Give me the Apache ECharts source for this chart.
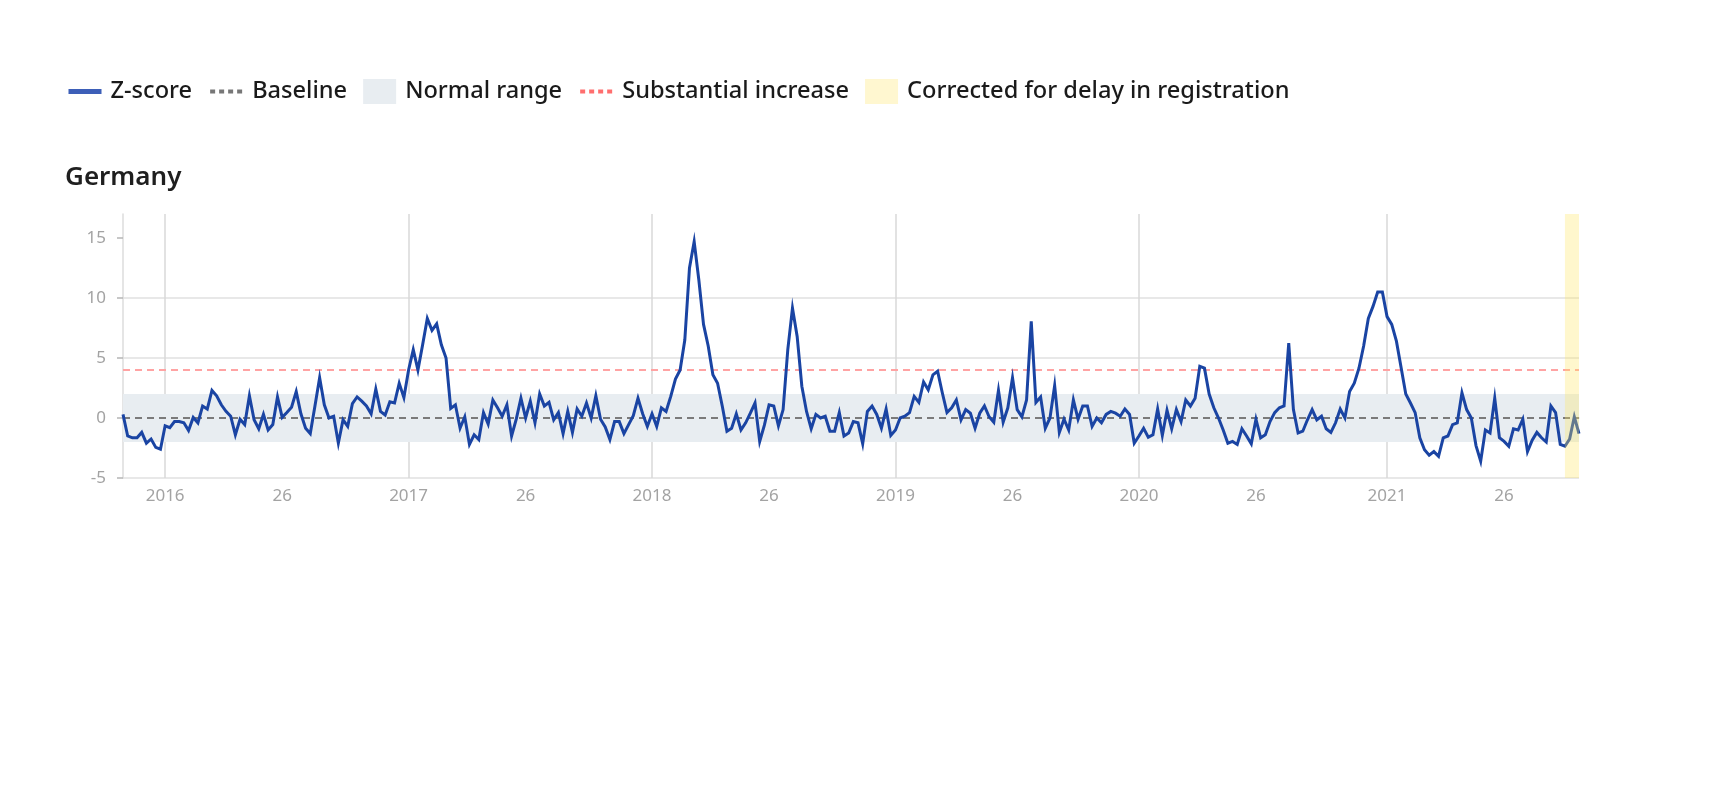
<!DOCTYPE html>
<html>
<head>
<meta charset="utf-8">
<script src="https://cdn.jsdelivr.net/npm/echarts@6/dist/echarts.min.js"></script>
<style>
html,body{margin:0;padding:0;background:#fff;}
#chart{width:1732px;height:785px;}
</style>
</head>
<body>
<div id="chart"></div>
<script>
// ISO weeks covered: 2015-W45 .. 2021-W42
const yearWeeks = [[2015, 45, 53], [2016, 1, 52], [2017, 1, 52], [2018, 1, 52], [2019, 1, 52], [2020, 1, 53], [2021, 1, 42]];
const categories = [];
yearWeeks.forEach(([y, from, to]) => { for (let w = from; w <= to; w++) categories.push(y + '-W' + w); });

const zScore = [
  0.3, -1.5, -1.65, -1.65, -1.2, -2.1, -1.75, -2.45, -2.6, -0.65,
  -0.8, -0.3, -0.3, -0.4, -1.05, 0.05, -0.4, 1.0, 0.75, 2.3,
  1.85, 1.1, 0.55, 0.15, -1.4, -0.1, -0.55, 1.85, -0.15, -0.9,
  0.3, -1.0, -0.55, 1.75, 0.05, 0.45, 0.9, 2.2, 0.35, -0.85,
  -1.3, 1.0, 3.35, 1.1, 0.0, 0.15, -2.1, -0.15, -0.7, 1.2,
  1.75, 1.4, 1.0, 0.35, 2.4, 0.55, 0.25, 1.35, 1.25, 2.9,
  1.7, 4.0, 5.7, 4.0, 6.1, 8.3, 7.3, 7.85, 6.1, 5.0,
  0.8, 1.1, -0.85, 0.1, -2.2, -1.4, -1.8, 0.45, -0.5, 1.5,
  0.85, 0.15, 1.1, -1.5, -0.1, 1.65, 0.0, 1.4, -0.4, 2.0,
  1.0, 1.3, -0.15, 0.45, -1.3, 0.55, -1.2, 0.75, 0.15, 1.25,
  0.0, 1.85, -0.1, -0.75, -1.8, -0.3, -0.3, -1.3, -0.55, 0.2,
  1.65, 0.35, -0.7, 0.35, -0.7, 0.85, 0.55, 1.8, 3.25, 4.0,
  6.5, 12.5, 14.7, 11.5, 7.8, 6.0, 3.6, 2.9, 1.0, -1.1,
  -0.85, 0.35, -1.0, -0.4, 0.4, 1.25, -1.95, -0.6, 1.1, 1.0,
  -0.65, 0.7, 5.7, 9.15, 6.8, 2.65, 0.55, -0.9, 0.3, 0.0,
  0.15, -1.1, -1.1, 0.45, -1.5, -1.25, -0.3, -0.4, -2.15, 0.55,
  1.0, 0.3, -0.85, 0.75, -1.45, -1.0, 0.0, 0.15, 0.45, 1.8,
  1.3, 3.0, 2.35, 3.6, 3.9, 2.1, 0.45, 0.85, 1.5, -0.15,
  0.7, 0.4, -0.85, 0.4, 1.0, 0.1, -0.35, 2.3, -0.35, 0.85,
  3.35, 0.7, 0.1, 1.5, 8.05, 1.3, 1.75, -0.85, 0.0, 2.7,
  -1.2, -0.1, -1.0, 1.5, -0.1, 1.0, 1.0, -0.7, 0.0, -0.4,
  0.3, 0.55, 0.4, 0.15, 0.75, 0.3, -2.1, -1.5, -0.85, -1.6,
  -1.4, 0.75, -1.45, 0.65, -0.9, 0.7, -0.3, 1.5, 1.0, 1.65,
  4.3, 4.15, 2.0, 0.85, 0.0, -1.0, -2.1, -1.95, -2.2, -0.9,
  -1.5, -2.15, -0.1, -1.65, -1.4, -0.3, 0.45, 0.85, 1.0, 6.25,
  0.7, -1.25, -1.1, -0.15, 0.7, -0.15, 0.15, -0.9, -1.2, -0.4,
  0.75, 0.0, 2.2, 2.9, 4.15, 6.0, 8.3, 9.3, 10.5, 10.5,
  8.45, 7.8, 6.4, 4.2, 2.0, 1.25, 0.45, -1.65, -2.65, -3.1,
  -2.8, -3.2, -1.65, -1.5, -0.55, -0.4, 2.1, 0.7, 0.0, -2.3,
  -3.6, -1.0, -1.25, 1.65, -1.65, -1.95, -2.35, -0.9, -1.0, -0.1,
  -2.8, -1.85, -1.2, -1.65, -2.0, 1.0, 0.45, -2.2, -2.35, -1.75,
  0.1, -1.3
];

const baselineValue = 0;
const substantialIncrease = 4;
const normalRange = [-2, 2];
const correctedRange = ['2021-W39', '2021-W42'];
const yTicks = [-5, 0, 5, 10, 15];
const labelWeeks = [1, 26];

const FONT = 'Noto Sans';
const weekOf = (v) => parseInt(String(v).split('-W')[1], 10);
const yearOf = (v) => String(v).split('-W')[0];
const hiddenSymbol = {color: 'rgba(0,0,0,0)', borderWidth: 0, opacity: 0};

const chart = echarts.init(document.getElementById('chart'), null, {renderer: 'canvas'});
chart.setOption({
  animation: false,
  backgroundColor: '#ffffff',
  title: {
    text: 'Germany', left: 65, top: 165, padding: 0,
    textStyle: {fontFamily: FONT, fontSize: 26, fontWeight: 600, color: '#1f1f1f'}
  },
  legend: {
    left: 66, top: 79, padding: 0, itemGap: 16, itemWidth: 33, itemHeight: 25,
    textStyle: {fontFamily: FONT, fontSize: 23.6, fontWeight: 500, color: '#1a1a1a', padding: [0, 0, 0, 4]},
    data: [
      {name: 'Z-score', itemStyle: hiddenSymbol, lineStyle: {width: 5, color: '#3d5fb8', type: 'solid'}},
      {name: 'Baseline', itemStyle: hiddenSymbol, lineStyle: {width: 4, type: [5, 4], color: '#777777'}},
      {name: 'Normal range', icon: 'rect', itemStyle: {color: '#e8edf1'}},
      {name: 'Substantial increase', itemStyle: hiddenSymbol, lineStyle: {width: 4, type: [5, 4], color: '#ff6e6e'}},
      {name: 'Corrected for delay in registration', icon: 'rect', itemStyle: {color: '#fff7d0'}}
    ]
  },
  grid: {left: 123, right: 153, top: 214, bottom: 307, containLabel: false},
  xAxis: {
    type: 'category', data: categories, boundaryGap: false,
    axisLine: {show: true, lineStyle: {color: '#dcdcdc', width: 1.5}},
    axisTick: {show: true, length: 6, lineStyle: {color: '#b5b5b5', width: 1.5},
      interval: (i, v) => labelWeeks.includes(weekOf(v))},
    axisLabel: {
      interval: (i, v) => labelWeeks.includes(weekOf(v)),
      formatter: (v) => weekOf(v) === 1 ? yearOf(v) : String(weekOf(v)),
      color: '#a3a3a3', fontFamily: FONT, fontSize: 17, margin: 10
    },
    splitLine: {show: true, interval: (i, v) => weekOf(v) === 1, lineStyle: {color: '#d9d9d9', width: 1.5}}
  },
  yAxis: {
    type: 'value', min: -5, max: 17, interval: 5,
    axisLine: {show: true, lineStyle: {color: '#dcdcdc', width: 1.5}},
    axisTick: {show: true, length: 6, lineStyle: {color: '#b5b5b5', width: 1.5}, customValues: yTicks},
    axisLabel: {color: '#a3a3a3', fontFamily: FONT, fontSize: 17, margin: 17, customValues: yTicks},
    splitLine: {show: true, showMaxLine: false, lineStyle: {color: '#e0e0e0', width: 1.5}}
  },
  series: [
    {
      name: 'Normal range', type: 'line', data: [], symbol: 'none',
      itemStyle: {color: '#e8edf1'},
      markArea: {
        silent: true, z: 1,
        itemStyle: {color: '#e8edf1'},
        data: [[{yAxis: normalRange[0]}, {yAxis: normalRange[1]}]]
      }
    },
    {
      name: 'Baseline', type: 'line', data: [], symbol: 'none',
      itemStyle: {color: '#777777'}, lineStyle: {color: '#777777', type: [5, 4]},
      markLine: {
        silent: true, symbol: 'none', z: 1.5, label: {show: false},
        lineStyle: {color: '#7a7a7a', width: 2, type: [7, 5]},
        data: [{yAxis: baselineValue}]
      }
    },
    {
      name: 'Substantial increase', type: 'line', data: [], symbol: 'none',
      itemStyle: {color: '#ff6e6e'}, lineStyle: {color: '#ff6e6e', type: [5, 4]},
      markLine: {
        silent: true, symbol: 'none', z: 1.5, label: {show: false},
        lineStyle: {color: '#ffa3a3', width: 2, type: [7, 5]},
        data: [{yAxis: substantialIncrease}]
      }
    },
    {
      name: 'Z-score', type: 'line', data: zScore, symbol: 'none', showSymbol: false, z: 3,
      itemStyle: {color: '#1a44a3'},
      lineStyle: {color: '#1a44a3', width: 3, join: 'miter'}
    },
    {
      name: 'Corrected for delay in registration', type: 'line', data: [], symbol: 'none',
      itemStyle: {color: '#fff7d0'},
      markArea: {
        silent: true, z: 10,
        itemStyle: {color: 'rgba(255, 230, 100, 0.32)'},
        data: [[{xAxis: correctedRange[0]}, {xAxis: correctedRange[1]}]]
      }
    }
  ]
});
</script>
</body>
</html>
